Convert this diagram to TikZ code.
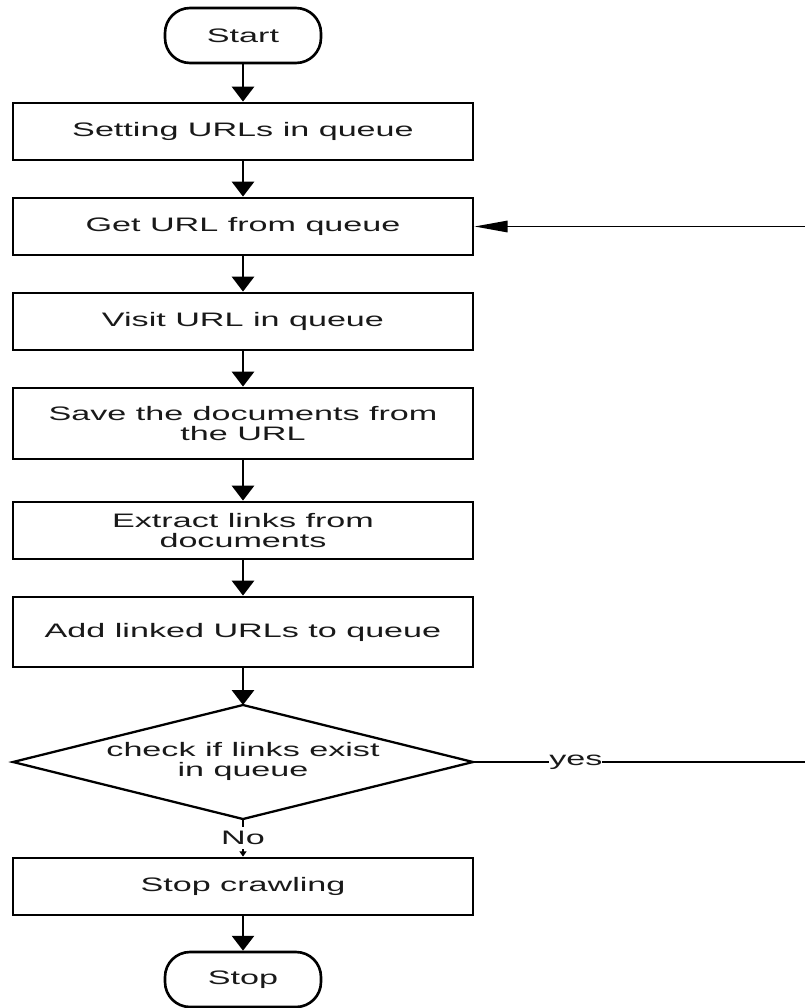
\documentclass[tikz,border=0pt]{standalone}
\usepackage{fontspec}
\newfontfamily\flowfont[FakeStretch=1.75]{Liberation Sans}
\usetikzlibrary{arrows.meta}
\begin{document}
\begin{tikzpicture}[x=0.02cm, y=-0.02cm,
  every node/.style={font=\flowfont\fontsize{11.1pt}{11.4pt}\selectfont, text=black!90},
  stepbox/.style={draw=black, line width=1.6pt, minimum width=9.2cm,
    minimum height=1.14cm, inner sep=0pt, align=center},
  term/.style={draw=black, line width=1.5pt, rounded corners=0.5cm,
    minimum width=3.12cm, minimum height=1.1cm, inner sep=0pt},
  flow/.style={line width=1.7pt, -{Triangle[width=12.5pt,length=8.5pt]}},
  thinline/.style={line width=1.1pt},
  backflow/.style={line width=1.1pt, -{Triangle[width=6.5pt,length=19pt]}},
  tag/.style={fill=white, inner xsep=0pt, inner ysep=0pt}]

\useasboundingbox (0,0) rectangle (805,1008);

% process steps
\node[term] (start) at (243,35.5) {Start};
\node[stepbox] (b1) at (243,131.5) {Setting URLs in queue};
\node[stepbox] (b2) at (243,226.5) {Get URL from queue};
\node[stepbox] (b3) at (243,321.5) {Visit URL in queue};
\node[stepbox, minimum height=1.42cm] (b4) at (243,423.5) {Save the documents from\\the URL};
\node[stepbox] (b5) at (243,530.5) {Extract links from\\documents};
\node[stepbox, minimum height=1.4cm] (b6) at (243,632) {Add linked URLs to queue};

% decision
\coordinate (dN) at (243,705);
\coordinate (dE) at (473,762);
\coordinate (dS) at (243,819);
\coordinate (dW) at (13,762);
\draw[line width=1.3pt, line join=miter] (dN) -- (dE) -- (dS) -- (dW) -- cycle;
\node[align=center, inner sep=0pt] (dtext) at (243,761) {check if links exist\\in queue};

\node[stepbox] (b7) at (243,886.5) {Stop crawling};
\node[term] (stop) at (243,979.5) {Stop};

% main flow
\draw[flow] (start) -- (b1);
\draw[flow] (b1) -- (b2);
\draw[flow] (b2) -- (b3);
\draw[flow] (b3) -- (b4);
\draw[flow] (b4) -- (b5);
\draw[flow] (b5) -- (b6);
\draw[flow] (b6) -- (dN);
\draw[line width=1.5pt, -{Triangle[width=4pt,length=3pt]}] (dS) --
  node[tag, minimum height=0.44cm] {No} (b7.north);
\draw[flow] (b7) -- (stop);

% loop back when links remain
\coordinate (yesEnd) at (805,762);
\coordinate (loopIn) at (805,226.5);
\draw[thinline] (dE) -- node[tag, pos=0.31] {yes} (yesEnd);
\draw[backflow] (loopIn) -- (b2.east);

\end{tikzpicture}
\end{document}
